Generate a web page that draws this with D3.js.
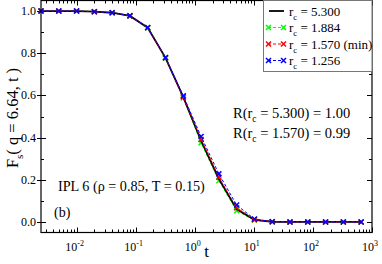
<!DOCTYPE html>
<html>
<head>
<meta charset="utf-8">
<script src="https://cdn.jsdelivr.net/npm/d3@7"></script>
<style>
  body { margin: 0; background: #fff; }
  svg { display: block; font-family: "Liberation Serif", "DejaVu Serif", serif; }
</style>
</head>
<body>
<script>
var W = 382, H = 264;
var margin = {top: 0.5, right: 10, bottom: 31.5, left: 41};

// time points and F_s values
var times = [0.0025, 0.005, 0.01, 0.02, 0.04, 0.08, 0.16, 0.32, 0.64, 1.28, 2.56, 5.12, 10.24, 20.48, 40.96, 81.92, 163.84, 327.68, 655.36];
var fs5300 = [1.0, 1.0, 1.0, 0.997, 0.992, 0.977, 0.921, 0.778, 0.592, 0.385, 0.205, 0.061, 0.010, 0.001, 0, 0, 0, 0, 0];
var fs1884 = [1.0, 1.0, 1.0, 0.997, 0.992, 0.977, 0.920, 0.776, 0.588, 0.375, 0.195, 0.053, 0.008, 0.001, 0, 0, 0, 0, 0];
var fs1570 = [1.0, 1.0, 1.0, 0.997, 0.992, 0.977, 0.921, 0.778, 0.593, 0.391, 0.212, 0.067, 0.011, 0.001, 0, 0, 0, 0, 0];
var fs1256 = [1.0, 1.0, 1.0, 0.997, 0.992, 0.978, 0.922, 0.780, 0.598, 0.405, 0.228, 0.080, 0.014, 0.001, 0, 0, 0, 0, 0];

var seriesNames = ["5.300", "1.884", "1.570 (min)", "1.256"];
var seriesColors = ["#000000", "#00ff00", "#ff0000", "#0000ff"];
var seriesValues = [fs5300, fs1884, fs1570, fs1256];

var yTicks = [0, 0.2, 0.4, 0.6, 0.8, 1.0];
var xTicks = [0.01, 0.1, 1, 10, 100, 1000];
var xTickExp = ["-2", "-1", "0", "1", "2", "3"];

var svg = d3.select("body").append("svg")
    .attr("width", W)
    .attr("height", H);

var x = d3.scaleLog().domain([0.0025, 1000]).range([margin.left, W - margin.right]);
var y = d3.scaleLinear().domain([-0.05, 1.05]).range([H - margin.bottom, margin.top]);

var x0 = x.range()[0], x1 = x.range()[1], y0 = y.range()[0], y1 = y.range()[1];

// minor ticks on log axis
var minorX = [];
for (var e = -3; e < 3; e++) {
  for (var m = 1; m < 10; m++) {
    var v = m * Math.pow(10, e);
    if (v >= 0.0025 && v <= 1000) minorX.push({v: v, major: m == 1});
  }
}
minorX.push({v: 1000, major: true});
var minorY = d3.range(0, 11).map(function(i) { return {v: i / 10, major: i % 2 == 0}; });

var ticks = svg.append("g").attr("stroke", "#000").attr("stroke-width", 1);
minorX.forEach(function(d) {
  var px = Math.round(x(d.v)) + 0.5, len = d.major ? 5 : 3;
  ticks.append("line").attr("x1", px).attr("x2", px).attr("y1", y0).attr("y2", y0 - len);
  ticks.append("line").attr("x1", px).attr("x2", px).attr("y1", y1).attr("y2", y1 + len);
});
minorY.forEach(function(d) {
  var py = Math.round(y(d.v)) + 0.5, len = d.major ? 5 : 3;
  ticks.append("line").attr("x1", x0).attr("x2", x0 + len).attr("y1", py).attr("y2", py);
  ticks.append("line").attr("x1", x1).attr("x2", x1 - len).attr("y1", py).attr("y2", py);
  if (d.major) ticks.append("line").attr("x1", x0 - 4).attr("x2", x0).attr("y1", py).attr("y2", py);
});

// y tick labels
svg.append("g").selectAll("text")
    .data(yTicks)
  .enter().append("text")
    .attr("x", x0 - 5)
    .attr("y", function(d) { return y(d) + 4; })
    .attr("text-anchor", "end")
    .attr("font-size", 12)
    .text(function(d) { return d.toFixed(1); });

// x tick labels 10^n
var xl = svg.append("g").selectAll("text")
    .data(xTicks)
  .enter().append("text")
    .attr("x", function(d) { return x(d) - 2; })
    .attr("y", y0 + 18)
    .attr("text-anchor", "middle")
    .attr("font-size", 12);
xl.append("tspan").text("10");
xl.append("tspan").attr("dy", -5).attr("font-size", 8).text(function(d, i) { return xTickExp[i]; });

// axis titles
svg.append("text")
    .attr("x", (x0 + x1) / 2)
    .attr("y", H - 7)
    .attr("text-anchor", "middle")
    .attr("font-size", 17)
    .text("t");

var yl = svg.append("text")
    .attr("transform", "translate(17.5,118) rotate(-90)")
    .attr("text-anchor", "middle")
    .attr("font-size", 16.5);
yl.append("tspan").text("F");
yl.append("tspan").attr("dy", 5).attr("font-size", 11).text("s");
yl.append("tspan").attr("dy", -5).text("( q = 6.64, t )");

// curves
var line = d3.line()
    .x(function(d) { return x(d[0]); })
    .y(function(d) { return y(d[1]); });

function marker(g, px, py, color) {
  var s = 2.5;
  g.append("path")
      .attr("d", "M" + (px - s) + "," + (py - s) + "L" + (px + s) + "," + (py + s) +
                 "M" + (px - s) + "," + (py + s) + "L" + (px + s) + "," + (py - s))
      .attr("stroke", color)
      .attr("stroke-width", 1.5)
      .attr("fill", "none");
}

var plot = svg.append("g");
var drawOrder = [1, 0, 2, 3];
drawOrder.forEach(function(k) {
  var pts = times.map(function(t, i) { return [t, seriesValues[k][i]]; });
  var path = plot.append("path")
      .datum(pts)
      .attr("d", line)
      .attr("fill", "none")
      .attr("stroke", seriesColors[k]);
  if (k == 0) {
    path.attr("stroke-width", 1.8);
  } else {
    path.attr("stroke-width", 1).attr("stroke-dasharray", "3,2");
    pts.forEach(function(p) { marker(plot, x(p[0]), y(p[1]), seriesColors[k]); });
  }
});

// frame
svg.append("rect")
    .attr("x", x0).attr("y", y1)
    .attr("width", x1 - x0).attr("height", y0 - y1)
    .attr("fill", "none")
    .attr("stroke", "#000")
    .attr("stroke-width", 1.2);

// legend
var lg = svg.append("g");
lg.append("rect")
    .attr("x", 263.5).attr("y", 0.5)
    .attr("width", 108.5).attr("height", 71)
    .attr("fill", "#fff")
    .attr("stroke", "#777")
    .attr("stroke-width", 1);
seriesNames.forEach(function(name, k) {
  var ly = 11 + k * 16.5;
  if (k == 0) {
    lg.append("line").attr("x1", 269).attr("x2", 284).attr("y1", ly).attr("y2", ly)
        .attr("stroke", "#000").attr("stroke-width", 1.8);
  } else {
    lg.append("line").attr("x1", 268).attr("x2", 284).attr("y1", ly).attr("y2", ly)
        .attr("stroke", seriesColors[k]).attr("stroke-dasharray", "3,2");
    marker(lg, 268.5, ly, seriesColors[k]);
    marker(lg, 283.5, ly, seriesColors[k]);
  }
  var tx = lg.append("text").attr("x", 289).attr("y", ly + 4.5).attr("font-size", 13);
  tx.append("tspan").text("r");
  tx.append("tspan").attr("dy", 4).attr("font-size", 8.5).text("c");
  tx.append("tspan").attr("dy", -4).text(" = " + name);
});

// annotations
var ratios = [["5.300", "1.00"], ["1.570", "0.99"]];
ratios.forEach(function(r, i) {
  var tx = svg.append("text").attr("x", 233).attr("y", 117.5 + i * 20.5).attr("font-size", 14.5);
  tx.append("tspan").text("R(r");
  tx.append("tspan").attr("dy", 4).attr("font-size", 9.5).text("c");
  tx.append("tspan").attr("dy", -4).text(" = " + r[0] + ") = " + r[1]);
});

svg.append("text").attr("x", 58).attr("y", 191).attr("font-size", 14.2)
    .text("IPL 6 (\u03c1 = 0.85, T = 0.15)");
svg.append("text").attr("x", 54).attr("y", 217).attr("font-size", 14)
    .text("(b)");
</script>
</body>
</html>
